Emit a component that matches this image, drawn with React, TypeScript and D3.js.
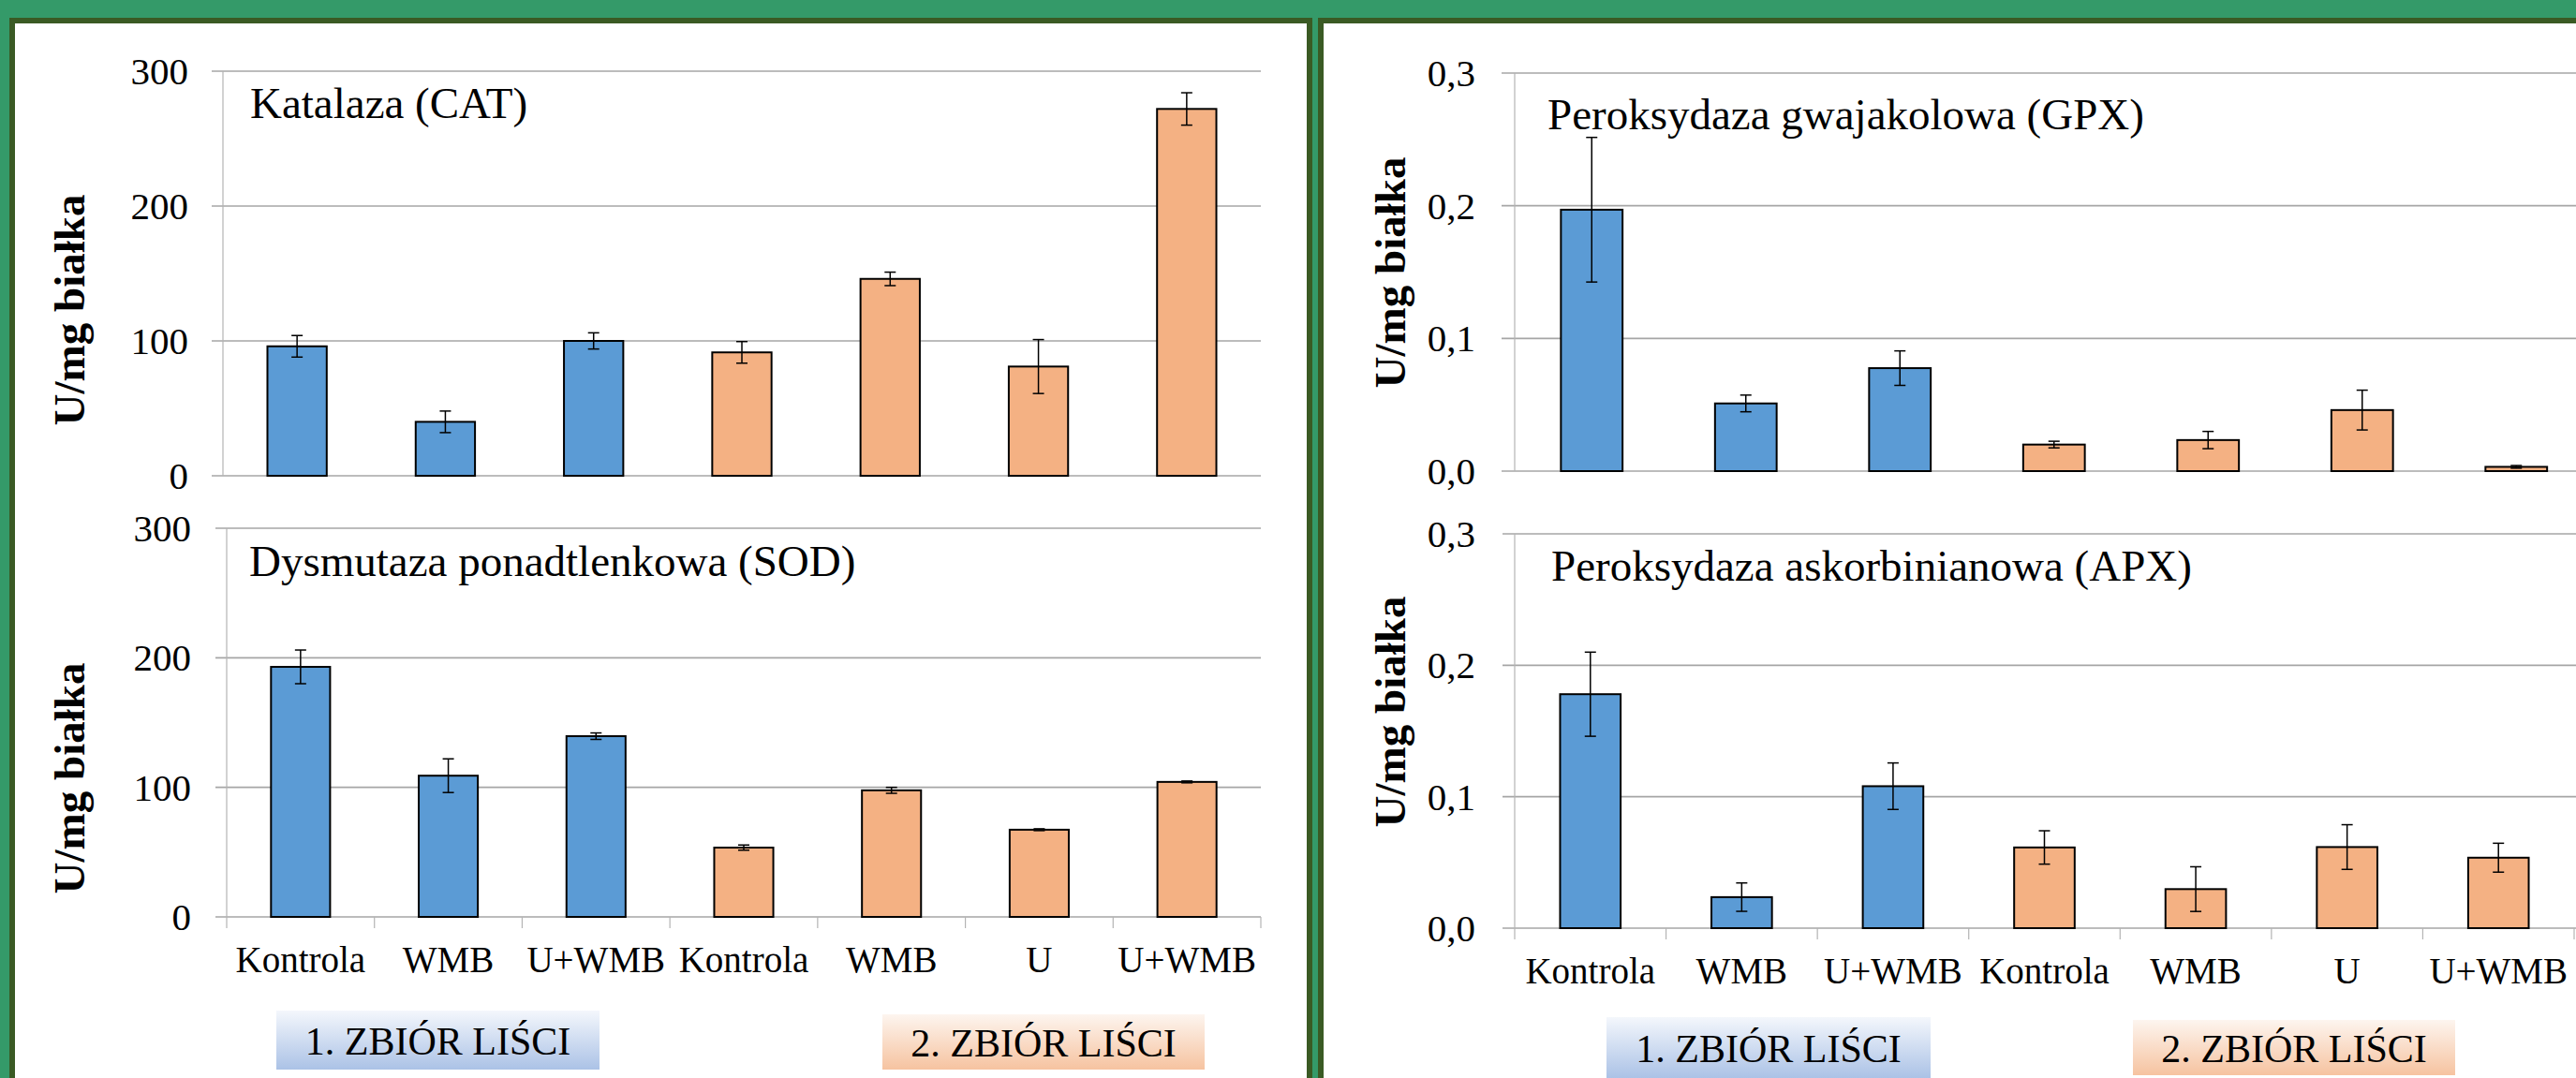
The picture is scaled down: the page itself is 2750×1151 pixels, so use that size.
import React from 'react';
import * as d3 from 'd3';

// categories (two leaf harvests)
const categories = ['Kontrola', 'WMB', 'U+WMB', 'Kontrola', 'WMB', 'U', 'U+WMB'];
const harvest = [1, 1, 1, 2, 2, 2, 2];
const groupLabels = ['1. ZBIÓR LIŚCI', '2. ZBIÓR LIŚCI'];
const yAxisTitle = 'U/mg białka';

// series values (mean, error)
const catMean = [96, 40, 100, 91.5, 146, 81, 272];
const catErr = [8, 8, 6, 8, 5, 20, 12];
const sodMean = [193, 109, 139.5, 53.5, 97.7, 67.3, 104.2];
const sodErr = [13, 13, 2.5, 2, 2.3, 0.7, 0.7];
const gpxMean = [0.197, 0.051, 0.0776, 0.02, 0.0234, 0.046, 0.0032];
const gpxErr = [0.0545, 0.0063, 0.013, 0.0025, 0.0065, 0.015, 0.001];
const apxMean = [0.178, 0.0236, 0.108, 0.0614, 0.0297, 0.0617, 0.0536];
const apxErr = [0.032, 0.0108, 0.0177, 0.0127, 0.017, 0.017, 0.011];

// tick labels
const leftTicks = [0, 100, 200, 300];
const rightTicks = [0, 0.1, 0.2, 0.3];

const W = 2750;
const H = 1151;
const FONT = '"Liberation Serif", "Times New Roman", serif';
const GREEN = '#349a69';
const DARK = '#3a5a24';
const BLUE = '#5b9bd5';
const ORANGE = '#f4b183';
const GRID = '#a6a6a6';

const intFmt = (v: number) => d3.format('d')(v);
const commaFmt = (v: number) => d3.format('.1f')(v).replace('.', ',');

const panels = [
  { title: 'Katalaza (CAT)', mean: catMean, err: catErr, ticks: leftTicks, fmt: intFmt,
    x0: 238, x1: 1346, yZero: 508, yTop: 76, gridStart: 226, gridEnd: 1346, tickEnd: 201,
    titleX: 267, titleY: 126, labelX: 90, labelY: 331, showX: false, xLabelY: 0 },
  { title: 'Dysmutaza ponadtlenkowa (SOD)', mean: sodMean, err: sodErr, ticks: leftTicks, fmt: intFmt,
    x0: 242, x1: 1346, yZero: 979, yTop: 564, gridStart: 230, gridEnd: 1346, tickEnd: 204,
    titleX: 266, titleY: 615, labelX: 90, labelY: 831, showX: true, xLabelY: 1038 },
  { title: 'Peroksydaza gwajakolowa (GPX)', mean: gpxMean, err: gpxErr, ticks: rightTicks, fmt: commaFmt,
    x0: 1617, x1: 2768.5, yZero: 503, yTop: 78, gridStart: 1603, gridEnd: 2750, tickEnd: 1575,
    titleX: 1652, titleY: 137.5, labelX: 1500, labelY: 291, showX: false, xLabelY: 0 },
  { title: 'Peroksydaza askorbinianowa (APX)', mean: apxMean, err: apxErr, ticks: rightTicks, fmt: commaFmt,
    x0: 1617, x1: 2748, yZero: 991, yTop: 570, gridStart: 1604, gridEnd: 2750, tickEnd: 1575,
    titleX: 1656, titleY: 620, labelX: 1500, labelY: 760, showX: true, xLabelY: 1050 },
];

const boxes = [
  { x: 295, y: 1079, w: 345, h: 63, g: 0 },
  { x: 942, y: 1083, w: 344, h: 59, g: 1 },
  { x: 1715, y: 1086, w: 346, h: 65, g: 0 },
  { x: 2277, y: 1089, w: 344, h: 59, g: 1 },
];

const Panel = ({ p }: { p: (typeof panels)[number] }) => {
  const idx = categories.map((_, i) => i);
  const x = d3.scaleBand<number>().domain(idx).range([p.x0, p.x1]).padding(0);
  const y = d3.scaleLinear().domain([0, p.ticks[p.ticks.length - 1]]).range([p.yZero, p.yTop]);
  const bw = x.bandwidth() * 0.4;
  const cap = 6;

  return (
    <g>
      {p.ticks.map((t) => (
        <g key={t}>
          <line x1={p.gridStart} x2={p.gridEnd} y1={y(t)} y2={y(t)} stroke={GRID} strokeWidth={1.6} />
          <text x={p.tickEnd} y={y(t)} dy="0.34em" textAnchor="end" fontSize={41} fontFamily={FONT}>
            {p.fmt(t)}
          </text>
        </g>
      ))}
      <line x1={p.x0} x2={p.x0} y1={p.yTop} y2={p.showX ? p.yZero + 12 : p.yZero} stroke="#b4b4b4" strokeWidth={1.2} />
      {p.showX &&
        idx.map((i) => (
          <line key={'t' + i} x1={x(i)! + x.bandwidth()} x2={x(i)! + x.bandwidth()} y1={p.yZero} y2={p.yZero + 12}
            stroke="#b4b4b4" strokeWidth={1.2} />
        ))}
      {idx.map((i) => {
        const cx = x(i)! + x.bandwidth() / 2;
        const top = y(p.mean[i]);
        return (
          <g key={'b' + i}>
            <rect x={cx - bw / 2} y={top} width={bw} height={p.yZero - top}
              fill={harvest[i] === 1 ? BLUE : ORANGE} stroke="#000" strokeWidth={2} />
            <line x1={cx} x2={cx} y1={y(p.mean[i] + p.err[i])} y2={y(p.mean[i] - p.err[i])} stroke="#000" strokeWidth={1.5} />
            <line x1={cx - cap} x2={cx + cap} y1={y(p.mean[i] + p.err[i])} y2={y(p.mean[i] + p.err[i])} stroke="#000" strokeWidth={1.5} />
            <line x1={cx - cap} x2={cx + cap} y1={y(p.mean[i] - p.err[i])} y2={y(p.mean[i] - p.err[i])} stroke="#000" strokeWidth={1.5} />
          </g>
        );
      })}
      {p.showX &&
        idx.map((i) => (
          <text key={'l' + i} x={x(i)! + x.bandwidth() / 2} y={p.xLabelY} textAnchor="middle" fontSize={39} fontFamily={FONT}>
            {categories[i]}
          </text>
        ))}
      <text x={p.titleX} y={p.titleY} fontSize={47} fontFamily={FONT}>{p.title}</text>
      <text transform={`translate(${p.labelX},${p.labelY}) rotate(-90)`} textAnchor="middle" fontSize={47}
        fontWeight="bold" fontFamily={FONT}>
        {yAxisTitle}
      </text>
    </g>
  );
};

export default function App() {
  return (
    <div style={{ position: 'absolute', left: 0, top: 0 }}>
      <svg width={W} height={H} style={{ display: 'block' }}>
        <defs>
          <linearGradient id="gBlue" x1="0" y1="0" x2="0" y2="1">
            <stop offset="0" stopColor="#f4f7fc" />
            <stop offset="1" stopColor="#abc2e6" />
          </linearGradient>
          <linearGradient id="gOrange" x1="0" y1="0" x2="0" y2="1">
            <stop offset="0" stopColor="#fdf5ef" />
            <stop offset="1" stopColor="#f6c3a0" />
          </linearGradient>
        </defs>
        <rect x={0} y={0} width={W} height={H} fill={GREEN} />
        <rect x={10} y={19} width={1391} height={H} fill={DARK} />
        <rect x={16} y={25} width={1379} height={H} fill="#fff" />
        <rect x={1407} y={19} width={W - 1407} height={H} fill={DARK} />
        <rect x={1413} y={25} width={W - 1413} height={H} fill="#fff" />
        {panels.map((p) => (
          <Panel key={p.title} p={p} />
        ))}
        {boxes.map((b, i) => (
          <g key={'box' + i}>
            <rect x={b.x} y={b.y} width={b.w} height={b.h} fill={b.g === 0 ? 'url(#gBlue)' : 'url(#gOrange)'} />
            <text x={b.x + b.w / 2} y={b.y + b.h / 2} dy="0.36em" textAnchor="middle" fontSize={42} fontFamily={FONT}>
              {groupLabels[b.g]}
            </text>
          </g>
        ))}
      </svg>
    </div>
  );
}
